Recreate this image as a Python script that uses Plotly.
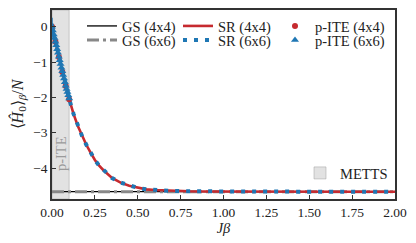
import plotly.graph_objects as go

# ---------------- data ----------------
beta_sr = [0, 0.02, 0.04, 0.06, 0.08, 0.10, 0.125, 0.15, 0.175, 0.20, 0.225, 0.25,
           0.275, 0.30, 0.35, 0.40, 0.45, 0.50, 0.55, 0.60, 0.70, 0.80, 0.90, 1.00,
           1.25, 1.50, 1.75, 2.00]
e_sr_4x4 = [0.0, -0.43, -0.85, -1.27, -1.68, -2.04, -2.46, -2.80, -3.09, -3.34, -3.56, -3.77,
            -3.93, -4.06, -4.28, -4.41, -4.50, -4.56, -4.60, -4.62, -4.645, -4.655, -4.66, -4.663,
            -4.665, -4.666, -4.666, -4.666]
e_sr_6x6 = [0.0, -0.43, -0.85, -1.27, -1.68, -2.04, -2.46, -2.80, -3.09, -3.34, -3.56, -3.77,
            -3.93, -4.06, -4.28, -4.41, -4.50, -4.56, -4.60, -4.62, -4.645, -4.655, -4.66, -4.663,
            -4.665, -4.666, -4.666, -4.666]

gs_beta = [0, 2]
gs_4x4 = [-4.665, -4.665]
gs_6x6 = [-4.67, -4.67]

beta_ite_4x4 = [0, 0.02, 0.04, 0.06, 0.08, 0.10]
e_ite_4x4 = [0.0, -0.43, -0.86, -1.28, -1.68, -2.05]
err_ite_4x4 = [0.08, 0.06, 0.05, 0.05, 0.04, 0.04]

beta_ite_6x6 = [0, 0.005, 0.01, 0.015, 0.02, 0.025, 0.03, 0.035, 0.04, 0.045, 0.05,
                0.055, 0.06, 0.065, 0.07, 0.075, 0.08, 0.085, 0.09, 0.095, 0.10]
e_ite_6x6 = [0.0, -0.11, -0.22, -0.32, -0.43, -0.53, -0.64, -0.74, -0.85, -0.95, -1.06,
             -1.16, -1.26, -1.37, -1.47, -1.57, -1.67, -1.76, -1.85, -1.94, -2.03]
err_ite_6x6 = [0.25, 0.2, 0.16, 0.13, 0.11, 0.1, 0.09, 0.08, 0.07, 0.07, 0.06,
               0.06, 0.05, 0.05, 0.05, 0.05, 0.04, 0.04, 0.04, 0.04, 0.04]

metts_band = [0, 0.1]
x_ticks = [0, 0.25, 0.5, 0.75, 1.0, 1.25, 1.5, 1.75, 2.0]
x_ticklabels = ["0.00", "0.25", "0.50", "0.75", "1.00", "1.25", "1.50", "1.75", "2.00"]
y_ticks = [0, -1, -2, -3, -4]

RED = "#c62a2f"
BLUE = "#1f77b4"
FONT = "Liberation Serif"
FS = 13.5
FS_LEG = 14.5

fig = go.Figure()

fig.add_trace(go.Scatter(x=gs_beta, y=gs_4x4, mode="lines", name="GS (4x4)",
                         line=dict(color="black", width=1.3), legend="legend"))
fig.add_trace(go.Scatter(x=gs_beta, y=gs_6x6, mode="lines", name="GS (6x6)",
                         line=dict(color="#888888", width=3, dash="12px,4px,3px,4px"),
                         legend="legend2"))
fig.add_trace(go.Scatter(x=beta_sr, y=e_sr_4x4, mode="lines", name="SR (4x4)",
                         line=dict(color=RED, width=2.6), legend="legend3"))
fig.add_trace(go.Scatter(x=beta_sr, y=e_sr_6x6, mode="lines", name="SR (6x6)",
                         line=dict(color=BLUE, width=4, dash="4px,7px"), legend="legend4"))
fig.add_trace(go.Scatter(x=beta_ite_4x4, y=e_ite_4x4, mode="markers", name="p-ITE (4x4)",
                         marker=dict(color=RED, size=6, symbol="circle"),
                         error_y=dict(type="data", array=err_ite_4x4, color=RED,
                                      thickness=1.5, width=0),
                         legend="legend5"))
fig.add_trace(go.Scatter(x=beta_ite_6x6, y=e_ite_6x6, mode="markers", name="p-ITE (6x6)",
                         marker=dict(color=BLUE, size=7, symbol="triangle-up"),
                         error_y=dict(type="data", array=err_ite_6x6, color=BLUE,
                                      thickness=1.5, width=0),
                         legend="legend6"))

fig.add_shape(type="rect", xref="x", yref="y domain", x0=metts_band[0], x1=metts_band[1],
              y0=0, y1=1, fillcolor="rgba(190,190,190,0.45)",
              line=dict(color="rgba(160,160,160,0.5)", width=1), layer="below",
              showlegend=True, name="METTS", legend="legend7")

fig.add_annotation(x=0.053, y=-3.6, xref="x", yref="y", text="p-ITE", textangle=-90,
                   showarrow=False, font=dict(family=FONT, size=FS_LEG, color="#9a9a9a"))

# page body adds an 8px offset; the figure is sized to fill the rest of the window
OFF = 8
W, H = 416 - OFF, 243 - OFF
L, R, T, B = 52 - OFF, 21, 10 - OFF, 44
pw, ph = W - L - R, H - T - B


def px_x(px):
    return (px - OFF - L) / pw


def px_y(py):
    return (H - B - (py - OFF)) / ph


leg_common = dict(bgcolor="rgba(0,0,0,0)", borderwidth=0, xanchor="left", yanchor="middle",
                  font=dict(family=FONT, size=FS_LEG, color="#222"), itemwidth=30,
                  visible=True)

fig.update_layout(
    width=W, height=H,
    margin=dict(l=L, r=R, t=T, b=B, autoexpand=False),
    showlegend=True,
    plot_bgcolor="white", paper_bgcolor="white",
    font=dict(family=FONT, size=FS, color="#222"),
    legend=dict(x=px_x(82), y=px_y(26), **leg_common),
    legend2=dict(x=px_x(82), y=px_y(40), **leg_common),
    legend3=dict(x=px_x(178), y=px_y(26), **leg_common),
    legend4=dict(x=px_x(178), y=px_y(40), **leg_common),
    legend5=dict(x=px_x(275), y=px_y(26), **leg_common),
    legend6=dict(x=px_x(275), y=px_y(40), **leg_common),
    legend7=dict(x=px_x(300), y=px_y(173), **leg_common),
    xaxis=dict(range=[0, 2], tickvals=x_ticks, ticktext=x_ticklabels, ticks="inside",
               ticklen=4, tickwidth=1, tickcolor="#333", showgrid=False, zeroline=False,
               showline=True, linecolor="#333", linewidth=1.5, mirror=True, automargin=False,
               title=dict(text="<i>Jβ</i>", standoff=4,
                          font=dict(family=FONT, size=FS_LEG))),
    yaxis=dict(range=[-4.873, 0.47], tickvals=y_ticks, ticks="inside",
               ticklen=4, tickwidth=1, tickcolor="#333", showgrid=False, zeroline=False,
               showline=True, linecolor="#333", linewidth=1.5, mirror=True, automargin=False,
               title=dict(text="⟨<i>Ĥ</i><sub>0</sub>⟩<sub><i>β</i></sub>/<i>N</i>",
                          standoff=6, font=dict(family=FONT, size=16))),
)

fig.write_html("out.html")
